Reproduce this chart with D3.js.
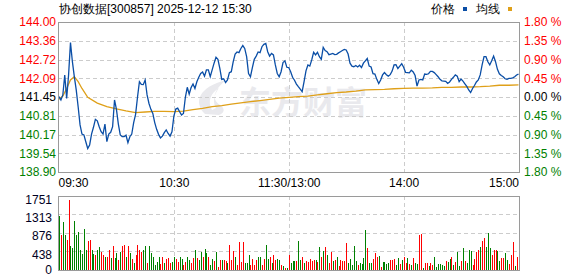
<!DOCTYPE html>
<html>
<head>
<meta charset="utf-8">
<script src="https://cdn.jsdelivr.net/npm/d3@7"></script>
<style>
  body { margin: 0; background: #fff; }
  text { font-family: "Liberation Sans", Arial, sans-serif; font-size: 12px; }
</style>
</head>
<body>
<script>
// price per minute, 09:30 .. 11:30 then 13:00 .. 15:00 (241 points)
var prices = [
  141.46,141.35,141.52,142.20,141.40,142.20,143.30,142.65,142.14,141.69,
  141.12,140.50,140.19,140.16,139.93,139.70,139.82,140.19,140.42,140.69,
  140.64,140.44,140.27,140.19,140.53,139.93,140.19,140.25,140.44,141.35,
  141.03,140.53,140.16,140.10,140.10,140.15,139.90,140.10,140.19,140.58,
  140.86,141.44,141.97,141.88,141.87,142.03,141.52,141.23,141.03,140.89,
  140.58,140.35,140.18,140.06,140.12,140.24,140.33,140.21,140.12,140.27,
  140.80,141.04,141.07,140.95,140.84,140.89,141.44,141.78,141.55,141.77,
  141.89,141.74,141.97,142.12,142.25,142.30,142.16,142.37,142.37,142.14,
  142.37,142.60,142.80,142.73,142.42,142.05,142.07,141.94,142.03,142.28,
  142.31,142.65,142.91,142.98,142.96,143.10,143.20,143.10,142.82,142.25,
  142.14,142.45,142.73,142.84,142.98,142.96,143.16,143.24,143.27,142.99,
  142.84,142.93,142.88,142.54,142.25,142.14,142.31,142.62,142.68,142.46,
  142.45,142.31,142.12,142.02,141.89,141.80,141.72,141.63,141.97,142.34,
  142.54,142.50,142.71,142.97,142.88,142.97,142.82,142.73,143.14,143.03,
  142.99,142.89,142.91,142.93,142.89,142.90,142.95,142.99,143.03,143.07,
  143.05,142.91,142.60,142.50,142.48,142.52,142.47,142.53,142.45,142.60,
  142.68,142.76,142.50,142.47,142.24,142.23,142.05,141.91,142.03,142.20,
  142.28,142.21,142.16,142.21,142.33,142.54,142.55,142.42,142.50,142.58,
  142.46,142.29,142.28,142.27,142.36,142.30,142.18,141.82,142.03,142.05,
  142.03,142.23,142.22,142.24,142.32,142.32,142.28,142.21,142.14,142.05,
  142.00,141.99,141.98,141.91,141.96,142.05,142.12,142.20,142.16,141.97,
  142.06,141.99,141.90,141.81,141.69,141.60,141.74,141.84,141.96,142.03,
  142.20,142.54,142.82,142.82,142.65,142.54,142.68,142.84,142.65,142.39,
  142.24,142.18,142.14,142.07,142.05,142.08,142.08,142.10,142.14,142.20,
  142.23
];

// average price line, read at these minutes
var avgMinutes = [0,2,4,6,8,10,12,15,20,25,30,35,40,45,50,55,60,65,70,75,80,85,90,95,100,105,110,115,120,
  125,130,135,140,145,150,155,160,165,170,175,180,185,190,195,200,205,210,215,220,225,230,235,240];
var avgPrices = [141.37,141.48,141.74,142.03,142.14,141.97,141.74,141.44,141.24,141.12,141.05,140.98,140.92,140.94,140.96,140.96,140.95,
  140.97,141.02,141.06,141.12,141.16,141.21,141.25,141.29,141.33,141.37,141.41,141.44,
  141.46,141.48,141.52,141.56,141.60,141.62,141.65,141.69,141.70,141.71,141.73,141.74,
  141.75,141.75,141.76,141.78,141.78,141.79,141.79,141.80,141.82,141.85,141.85,141.86];

// volume per minute (lots) and bar colour: r = up, g = down
var volumes = [
  1280,810,1134,810,713,1644,567,510,1158,810, 891,470,365,956,454,672,713,470,365,356,
  470,527,413,348,308,292,470,284,567,267, 389,227,421,567,591,292,551,389,243,146,
  348,591,470,405,470,567,146,567,389,308, 105,186,292,122,292,162,243,267,146,186, 292,
  243,186,292,259,105,186,292,227,162,275, 470,267,227,421,292,486,389,308,105,243,
  211,413,65,227,227,227,211,162,591,227, 429,292,105,648,186,664,146,162,348,105,
  243,105,227,292,308,105,243,591,243,292, 162,348,227,243,227,105,81,24,24,348,
  162,211,194,211,672,227,292,146,211,170, 259,211,227,227,186,535,292,429,535,348,
  146,405,211,227,308,81,227,194,211,632, 162,243,105,567,211,105,162,122,267,940,
  510,162,146,243,389,292,324,65,186,186, 130,146,227,219,243,105,284,130,227,308,
  162,275,130,105,284,146,130,810,834,24, 146,162,81,162,105,308,65,122,122,105,
  81,211,186,243,308,105,186,405,81,211, 510,211,146,470,429,105,243,405,454,535,
  672,753,535,859,502,340,470,470,429,211, 267,267,389,227,130,348,648,81,308,810
];
var volDir = (
  "grggrrgggg gggggrrggr ggrrgrrgrg grgrrgrgrg rrrrggrggg gggrrgrrrg g" +
  "rrggrrggrr grggrggrgg rgrrgrrgrr rgrrrrgggr rrrggrrggr grrggrgrgr" +
  "gggrggrgrr rrrgrgrgrg rrgrgrrrrr gggggrgggg rggrrrgrgg ggrrrggrgr" +
  "rgrgrggrrg rrgrrggggg grggrgrggr grgggrrrrg rrgggrrrgg rrggrrrgrr"
).replace(/ /g, "").split("");

// axis labels
var priceTicks = [144.00, 143.36, 142.72, 142.09, 141.45, 140.81, 140.17, 139.54, 138.90];
var pctLabels = ["1.80", "1.35", "0.90", "0.45", "0.00", "0.45", "0.90", "1.35", "1.80"];
var volTicks = [1751, 1313, 876, 438, 0];
var timeMinutes = [0, 60, 120, 180, 240];
var timeLabels = ["09:30", "10:30", "11:30/13:00", "14:00", "15:00"];
var prevClose = 141.45;

var title = "协创数据[300857] 2025-12-12 15:30";

window.onload = function(){
  var w = 578, h = 276;
  var left = 58, right = 519;
  var pTop = 22, pBottom = 172;   // price panel
  var vTop = 196, vBottom = 269.5; // volume panel

  var red = "#ff0000", green = "#008000", blue = "#0a4ea6", orange = "#dfa019";

  var svg = d3.select("body").append("svg")
      .attr("width", w)
      .attr("height", h);

  // scales
  var x = d3.scaleLinear().domain([0, 240]).range([left + 1, right - 0.5]);
  var y = d3.scaleLinear().domain([138.90, 144.00]).range([pBottom, pTop]);
  var yv = d3.scaleLinear().domain([0, 1751]).range([vBottom, vTop]);

  // watermark
  var wm = svg.append("g").attr("fill", "#e9e9ed");
  wm.append("path")
      .attr("d", "M205,114 C193,102 199,87 226,80 C214,90 211,99 220,105 C226,109 224,113 219,115 Z M212,110 C207,101 211,93 219,88 C213,96 213,103 216,108 Z")
      .attr("fill-rule", "evenodd");
  wm.append("text")
      .attr("x", 239).attr("y", 114)
      .style("font-family", "'Noto Sans CJK SC', sans-serif")
      .style("font-size", "32px")
      .style("font-weight", "bold")
      .text("东方财富");

  // grid for both panels
  function grid(top, bottom, yScale, ticks){
    var g = svg.append("g")
        .attr("stroke", "#cccccc")
        .attr("stroke-dasharray", "4,3")
        .attr("shape-rendering", "crispEdges");
    g.selectAll(".hg").data(ticks.slice(1, -1)).enter().append("line")
        .attr("x1", left).attr("x2", right)
        .attr("y1", function(d){ return Math.round(yScale(d)) + 0.5; })
        .attr("y2", function(d){ return Math.round(yScale(d)) + 0.5; });
    g.selectAll(".vg").data(timeMinutes.slice(1, -1)).enter().append("line")
        .attr("y1", top).attr("y2", bottom)
        .attr("x1", function(d){ return Math.round(x(d)) + 0.5; })
        .attr("x2", function(d){ return Math.round(x(d)) + 0.5; });
  }
  grid(pTop, pBottom, y, priceTicks);
  grid(vTop, vBottom, yv, volTicks);

  // average line
  var avgLine = d3.line()
      .x(function(d, i){ return x(avgMinutes[i]); })
      .y(function(d){ return y(d); });
  svg.append("path")
      .datum(avgPrices)
      .attr("d", avgLine)
      .attr("fill", "none")
      .attr("stroke", orange)
      .attr("stroke-width", 1.3);

  // price line
  var priceLine = d3.line()
      .x(function(d, i){ return x(i); })
      .y(function(d){ return y(d); });
  svg.append("path")
      .datum(prices)
      .attr("d", priceLine)
      .attr("fill", "none")
      .attr("stroke", blue)
      .attr("stroke-width", 1.3);

  // volume bars
  svg.selectAll(".bar")
      .data(volumes)
      .enter().append("rect")
      .attr("class", "bar")
      .attr("x", function(d, i){ return Math.round(x(i)); })
      .attr("width", 1)
      .attr("y", function(d){ return yv(d); })
      .attr("height", function(d){ return vBottom - yv(d); })
      .attr("shape-rendering", "crispEdges")
      .attr("fill", function(d, i){ return volDir[i] === "r" ? red : green; });

  // panel borders
  [[pTop, pBottom], [vTop, vBottom]].forEach(function(p){
    svg.append("rect")
        .attr("x", left + 0.5).attr("y", p[0] + 0.5)
        .attr("width", right - left).attr("height", Math.round(p[1] - p[0]))
        .attr("fill", "none")
        .attr("stroke", "#9a9a9a");
  });

  function colorOf(v){
    if (Math.abs(v - prevClose) < 0.005) return "#000000";
    return v > prevClose ? red : green;
  }

  // left price axis
  var yAxis = d3.axisLeft(y).tickValues(priceTicks).tickSize(0).tickPadding(2)
      .tickFormat(function(d){ return d.toFixed(2); });
  var ga = svg.append("g").attr("transform", "translate(" + left + ",0)").call(yAxis);
  ga.select(".domain").remove();
  ga.selectAll("text").style("font-size", "12px")
      .attr("fill", function(d){ return colorOf(d); });

  // right percent axis
  var pAxis = d3.axisRight(y).tickValues(priceTicks).tickSize(0).tickPadding(5)
      .tickFormat(function(d, i){ return pctLabels[i] + " %"; });
  var gp = svg.append("g").attr("transform", "translate(" + right + ",0)").call(pAxis);
  gp.select(".domain").remove();
  gp.selectAll("text").style("font-size", "12px")
      .attr("fill", function(d){ return colorOf(d); });

  // volume axis
  var vAxis = d3.axisLeft(yv).tickValues(volTicks).tickSize(0).tickPadding(6)
      .tickFormat(d3.format("d"));
  var gv = svg.append("g").attr("transform", "translate(" + left + ",0)").call(vAxis);
  gv.select(".domain").remove();
  gv.selectAll("text").style("font-size", "12px").attr("fill", "#000022")
      .attr("dy", function(d){ return d === 0 ? "0.3em" : "0.6em"; });

  // time axis
  var tAxis = d3.axisBottom(x).tickValues(timeMinutes).tickSize(0).tickPadding(6)
      .tickFormat(function(d, i){ return timeLabels[i]; });
  var gt = svg.append("g").attr("transform", "translate(0," + pBottom + ")").call(tAxis);
  gt.select(".domain").remove();
  gt.selectAll("text").style("font-size", "12px").attr("fill", "#000")
      .attr("text-anchor", function(d, i){ return i === 0 ? "start" : (i === timeMinutes.length - 1 ? "end" : "middle"); })
      .attr("dx", function(d, i){ return i === 0 ? -1 : 0; });

  // header
  svg.append("text").attr("x", 59).attr("y", 13).attr("fill", "#000").text(title);

  // legend
  var lg = svg.append("g");
  lg.append("text").attr("x", 431).attr("y", 13).text("价格");
  lg.append("rect").attr("x", 463).attr("y", 7).attr("width", 4).attr("height", 4).attr("fill", blue);
  lg.append("text").attr("x", 476).attr("y", 13).text("均线");
  lg.append("rect").attr("x", 508).attr("y", 7).attr("width", 4).attr("height", 4).attr("fill", orange);
};
</script>
</body>
</html>
